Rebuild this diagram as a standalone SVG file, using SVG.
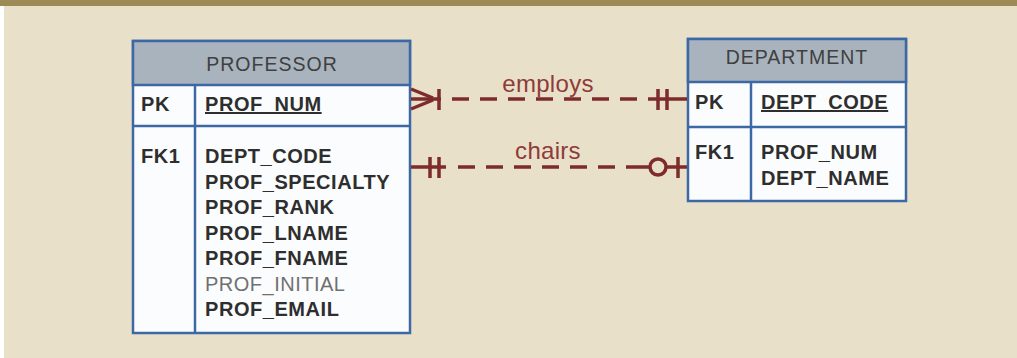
<svg xmlns="http://www.w3.org/2000/svg" width="1017" height="358" viewBox="0 0 1017 358">
<style>
.tbl{fill:#fbfcfd;stroke:#3d68a6;stroke-width:2.5}
.hdr{fill:#a9b3bd;stroke:#3d68a6;stroke-width:2.5}
.ln{stroke:#3d68a6;stroke-width:2.5;fill:none}
.ht{font-family:"Liberation Sans",Arial,sans-serif;font-size:19.5px;fill:#404040;letter-spacing:1px}
.b{font-family:"Liberation Sans",Arial,sans-serif;font-size:20px;font-weight:bold;fill:#2e2e2e;letter-spacing:0.55px}
.r{font-family:"Liberation Sans",Arial,sans-serif;font-size:20px;fill:#707070;letter-spacing:0.5px}
.c{stroke:#7d2b2b;stroke-width:3.5;fill:none}
.d{stroke-dasharray:17 11}
.lbl{font-family:"Liberation Sans",Arial,sans-serif;font-size:24px;fill:#8e3b3b;letter-spacing:0.3px}
</style>
<rect x="0" y="0" width="1017" height="358" fill="#ffffff"/>
<rect x="4" y="0" width="1013" height="358" fill="#e8e0c8"/>
<rect x="0" y="0" width="1017" height="6" fill="#9c8b55"/>

<g id="professor">
<rect class="tbl" x="133" y="41" width="277" height="292"/>
<rect class="hdr" x="133" y="41" width="277" height="44"/>
<line class="ln" x1="133" y1="126" x2="410" y2="126"/>
<line class="ln" x1="195" y1="85" x2="195" y2="333"/>
<text class="ht" x="272" y="71" text-anchor="middle">PROFESSOR</text>
<text class="b" x="141" y="111">PK</text>
<text class="b" x="205" y="111" text-decoration="underline">PROF_NUM</text>
<text class="b" x="141" y="163">FK1</text>
<text class="b" x="205" y="163">DEPT_CODE</text>
<text class="b" x="205" y="188.5">PROF_SPECIALTY</text>
<text class="b" x="205" y="214">PROF_RANK</text>
<text class="b" x="205" y="239.5">PROF_LNAME</text>
<text class="b" x="205" y="265">PROF_FNAME</text>
<text class="r" x="205" y="290.5">PROF_INITIAL</text>
<text class="b" x="205" y="316">PROF_EMAIL</text>
</g>

<g id="department">
<rect class="tbl" x="688" y="39" width="218" height="162"/>
<rect class="hdr" x="688" y="39" width="218" height="43"/>
<line class="ln" x1="688" y1="127" x2="906" y2="127"/>
<line class="ln" x1="751" y1="82" x2="751" y2="201"/>
<text class="ht" x="797" y="64" text-anchor="middle">DEPARTMENT</text>
<text class="b" x="695" y="109">PK</text>
<text class="b" x="761" y="109" text-decoration="underline">DEPT_CODE</text>
<text class="b" x="695" y="159">FK1</text>
<text class="b" x="761" y="159">PROF_NUM</text>
<text class="b" x="761" y="185">DEPT_NAME</text>
</g>

<g id="connectors">
<!-- employs -->
<line class="c" x1="411" y1="99" x2="441" y2="99"/>
<line class="c" x1="411" y1="89" x2="433" y2="98"/>
<line class="c" x1="411" y1="109" x2="433" y2="100"/>
<line class="c" x1="439" y1="89" x2="439" y2="110"/>
<line class="c d" x1="452" y1="99" x2="648" y2="99"/>
<line class="c" x1="648" y1="99" x2="687" y2="99"/>
<line class="c" x1="658" y1="89" x2="658" y2="110"/>
<line class="c" x1="667" y1="89" x2="667" y2="110"/>
<text class="lbl" x="548" y="92" text-anchor="middle">employs</text>
<!-- chairs -->
<line class="c" x1="411" y1="167" x2="446" y2="167"/>
<line class="c" x1="430" y1="157" x2="430" y2="178"/>
<line class="c" x1="439" y1="157" x2="439" y2="178"/>
<line class="c d" x1="458" y1="167" x2="640" y2="167"/>
<line class="c" x1="640" y1="167" x2="650" y2="167"/>
<circle class="c" cx="658" cy="167" r="8"/>
<line class="c" x1="666" y1="167" x2="687" y2="167"/>
<line class="c" x1="678" y1="157" x2="678" y2="178"/>
<text class="lbl" x="548" y="159" text-anchor="middle">chairs</text>
</g>
</svg>
